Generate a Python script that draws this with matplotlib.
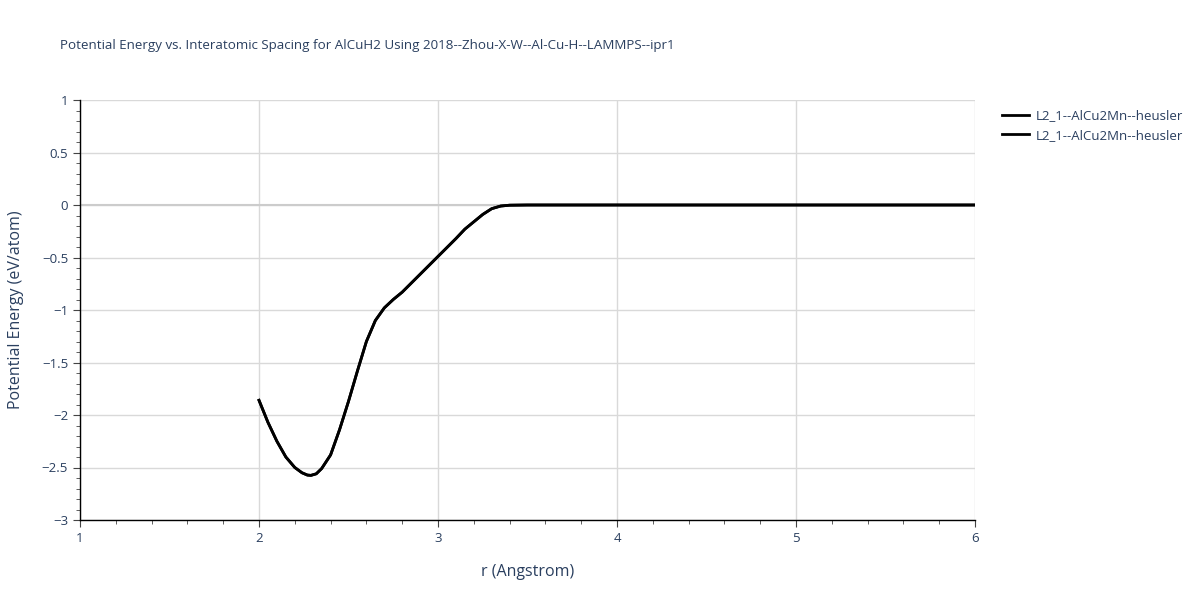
import numpy as np
import matplotlib.pyplot as plt
from matplotlib.ticker import MultipleLocator

# curve
r = [2.0, 2.05, 2.1, 2.15, 2.2, 2.24, 2.27, 2.29, 2.32, 2.35, 2.4, 2.45, 2.5, 2.55,
     2.6, 2.65, 2.7, 2.75, 2.8, 2.9, 3.0, 3.1, 3.15, 3.2, 3.25, 3.3, 3.35,
     3.4, 3.5, 4.0, 5.0, 6.0]
energy = [-1.86, -2.07, -2.25, -2.40, -2.50, -2.55, -2.572, -2.575, -2.56, -2.51, -2.38,
          -2.14, -1.87, -1.58, -1.30, -1.10, -0.98, -0.90, -0.83, -0.66, -0.49,
          -0.32, -0.23, -0.16, -0.09, -0.035, -0.01, -0.002, 0.0, 0.0, 0.0, 0.0]
labels = ["L2_1--AlCu2Mn--heusler", "L2_1--AlCu2Mn--heusler"]

txt = "#2a3f5f"
plt.rcParams['font.family'] = ['Open Sans', 'DejaVu Sans']

fig = plt.figure(figsize=(12, 6), dpi=100)
ax = fig.add_axes([80/1200, 1 - 520/600, 895/1200, 420/600])

for lab in labels:
    ax.plot(r, energy, color='black', lw=2, label=lab, zorder=3)

ax.set_xlim(1, 6)
ax.set_ylim(-3, 1)
ax.xaxis.set_major_locator(MultipleLocator(1))
ax.xaxis.set_minor_locator(MultipleLocator(0.2))
ax.yaxis.set_major_locator(MultipleLocator(0.5))
ax.yaxis.set_minor_locator(MultipleLocator(0.1))
ax.grid(True, which='major', color='#d9d9d9', lw=1)
ax.axhline(0, color='#cccccc', lw=1.5, zorder=1)
ax.set_axisbelow(True)

for s in ['top', 'right']:
    ax.spines[s].set_visible(False)
for s in ['left', 'bottom']:
    ax.spines[s].set_color('black')
    ax.spines[s].set_linewidth(1)

ax.tick_params(which='major', direction='out', length=5, color='#444444',
               labelsize=9.5, labelcolor=txt)
ax.tick_params(which='minor', direction='out', length=3, color='#444444')
ax.set_yticklabels([f"{v:g}".replace('-', '\u2212') for v in ax.get_yticks()])
ax.set_xticklabels([f"{v:g}" for v in ax.get_xticks()])

ax.set_xlabel("r (Angstrom)", fontsize=11.5, color=txt, labelpad=14)
ax.set_ylabel("Potential Energy (eV/atom)", fontsize=11.5, color=txt, labelpad=13)
fig.text(60/1200, 1 - 45/600, "Potential Energy vs. Interatomic Spacing for AlCuH2 Using 2018--Zhou-X-W--Al-Cu-H--LAMMPS--ipr1",
         fontsize=9.6, color=txt, va='center', ha='left')

ax.legend(loc='upper left', bbox_to_anchor=(997/895 - 80/895, 0.99), frameon=False,
          fontsize=9.5, labelcolor=txt, handlelength=2.0, handletextpad=0.5,
          borderaxespad=0)

fig.savefig("out.png", dpi=100)
